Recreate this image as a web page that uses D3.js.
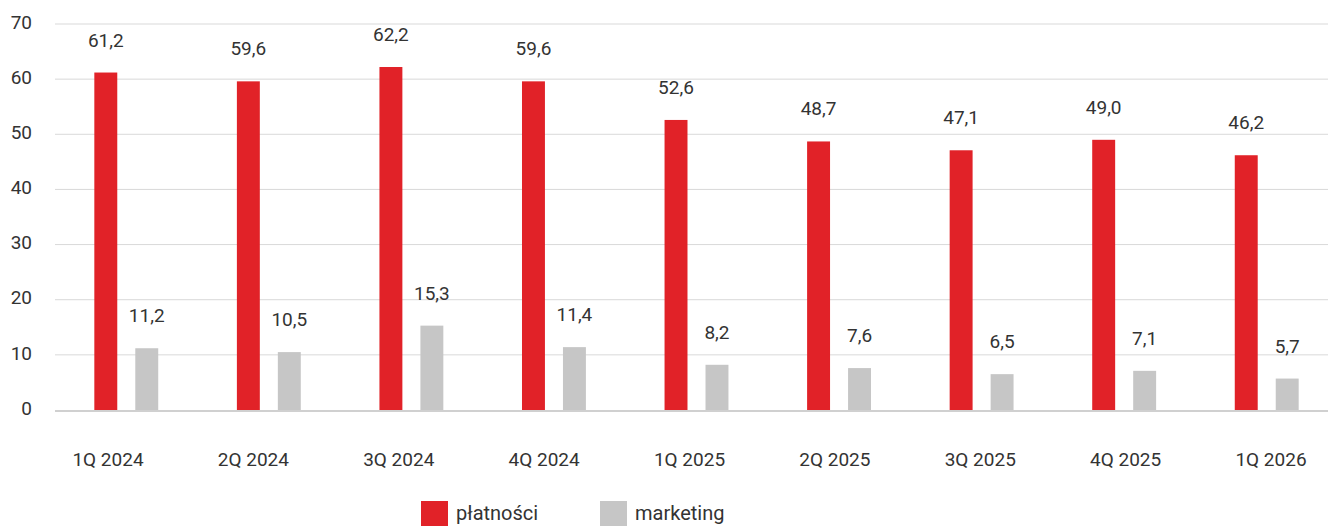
<!DOCTYPE html>
<html lang="pl">
<head>
<meta charset="UTF-8">
<title>płatności / marketing</title>
<script src="https://d3js.org/d3.v7.min.js"></script>
<style>
  body { margin: 0; background: #fff; font-family: Roboto, "Noto Sans", sans-serif; }
  svg text { fill: #333; }
</style>
</head>
<body>
<svg id="chart" width="1328" height="526"></svg>
<script>
// dane
const quarters = ["1Q 2024", "2Q 2024", "3Q 2024", "4Q 2024", "1Q 2025", "2Q 2025", "3Q 2025", "4Q 2025", "1Q 2026"];
const platnosci = [61.2, 59.6, 62.2, 59.6, 52.6, 48.7, 47.1, 49.0, 46.2];
const marketing = [11.2, 10.5, 15.3, 11.4, 8.2, 7.6, 6.5, 7.1, 5.7];
const yTicks = [0, 10, 20, 30, 40, 50, 60, 70];
const seriesNames = ["płatności", "marketing"];
const colors = ["#e12228", "#c6c6c6"];

const svg = d3.select("#chart");
const mLeft = 55, mRight = 1338, mTop = 24, mBottom = 410;

const x = d3.scaleBand().domain(quarters).range([mLeft, mRight]);
const inner = d3.scaleBand().domain(seriesNames).range([0, x.bandwidth()]).paddingInner(0.44).paddingOuter(0.96);
const y = d3.scaleLinear().domain([0, 70]).range([mBottom, mTop]);
// etykiety kwartałów rozmieszczone nieco inaczej niż słupki
const xLab = d3.scalePoint().domain(quarters).range([108, 1271]);

const fmt = v => v.toFixed(1).replace(".", ",");

// siatka
svg.append("g").selectAll("line")
  .data(yTicks.filter(d => d > 0))
  .enter().append("line")
  .attr("x1", mLeft).attr("x2", 1328)
  .attr("y1", d => y(d)).attr("y2", d => y(d))
  .attr("stroke", "#d9d9d9").attr("stroke-width", 1);

// oś y
svg.append("g").selectAll("text")
  .data(yTicks)
  .enter().append("text")
  .attr("x", 32).attr("y", d => y(d) - 2)
  .attr("dy", "0.35em")
  .attr("text-anchor", "end")
  .style("font-size", "19px")
  .text(d => d);

const rows = quarters.map((q, i) => ({ q, vals: [platnosci[i], marketing[i]] }));

const groups = svg.append("g").selectAll("g")
  .data(rows)
  .enter().append("g")
  .attr("transform", d => `translate(${x(d.q)},0)`);

const bars = groups.selectAll("g")
  .data(d => d.vals.map((v, k) => ({ name: seriesNames[k], v, k })))
  .enter().append("g");

bars.append("rect")
  .attr("x", d => inner(d.name))
  .attr("width", inner.bandwidth())
  .attr("y", d => y(d.v))
  .attr("height", d => y(0) - y(d.v))
  .attr("fill", d => colors[d.k]);

bars.append("text")
  .attr("x", d => inner(d.name) + inner.bandwidth() / 2)
  .attr("y", d => y(d.v) - 26)
  .attr("text-anchor", "middle")
  .style("font-size", "19px")
  .text(d => fmt(d.v));

// linia bazowa
svg.append("line")
  .attr("x1", mLeft).attr("x2", 1328)
  .attr("y1", y(0) + 1).attr("y2", y(0) + 1)
  .attr("stroke", "#d0d0d0").attr("stroke-width", 2);

// etykiety osi x
svg.append("g").selectAll("text")
  .data(quarters)
  .enter().append("text")
  .attr("x", d => xLab(d))
  .attr("y", 466)
  .attr("text-anchor", "middle")
  .style("font-size", "19px")
  .text(d => d);

// legenda
const legend = svg.append("g").selectAll("g")
  .data(seriesNames)
  .enter().append("g")
  .attr("transform", (d, i) => `translate(${421 + i * 179},501)`);

legend.append("rect")
  .attr("width", 27).attr("height", 25)
  .attr("fill", (d, i) => colors[i]);

legend.append("text")
  .attr("x", 35).attr("y", 19)
  .style("font-size", "20px")
  .text(d => d);
</script>
</body>
</html>
